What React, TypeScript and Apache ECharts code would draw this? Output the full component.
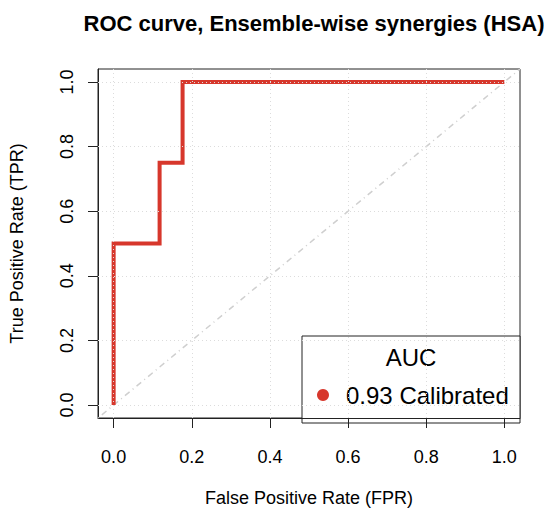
import React, { useEffect, useRef } from "react";
import * as echarts from "echarts";

// ROC curve vertices (false positive rate, true positive rate)
const fpr = [0, 0, 2 / 17, 2 / 17, 3 / 17, 3 / 17, 1];
const tpr = [0, 0.5, 0.5, 0.75, 0.75, 1, 1];

const tickValues = [0, 0.2, 0.4, 0.6, 0.8, 1.0];
const axisLimits = [-0.04, 1.04];

const seriesName = "0.93 Calibrated";
const legendTitle = "AUC";

const RED = "#d7372c";
const INK = "#222";
const FONT = "Liberation Sans, Arial, Helvetica, sans-serif";

export default function App() {
  const ref = useRef<HTMLDivElement>(null);

  useEffect(() => {
    if (!ref.current) return;
    document.body.style.margin = "0";
    document.body.style.overflow = "hidden";
    const chart = echarts.init(ref.current, null, { renderer: "svg" });

    const gridLines = [
      ...tickValues.map((v) => ({ xAxis: v })),
      ...tickValues.map((v) => ({ yAxis: v })),
    ];

    const box = { left: 98, right: 24, top: 69, bottom: 89 };
    const legendW = 218;
    const legendH = 87;
    const legendX = 544 - box.right - legendW;
    const legendY = 512 - box.bottom - legendH;

    const axisCommon = {
      type: "value",
      min: axisLimits[0],
      max: axisLimits[1],
      nameLocation: "middle",
      nameTextStyle: { fontFamily: FONT, fontSize: 18, color: "#000" },
      axisLine: { show: true, onZero: false, lineStyle: { color: INK, width: 1 } },
      splitLine: { show: false },
      axisTick: {
        show: true,
        length: 10,
        customValues: tickValues,
        lineStyle: { color: INK, width: 1 },
      },
    };

    chart.setOption({
      animation: false,
      textStyle: { fontFamily: FONT },
      title: {
        text: "ROC curve, Ensemble-wise synergies (HSA)",
        left: 309,
        textAlign: "center",
        top: 7,
        textStyle: { fontFamily: FONT, fontSize: 22, fontWeight: "bold", color: "#000" },
      },
      grid: {
        ...box,
        show: true,
        borderColor: INK,
        borderWidth: 1,
        backgroundColor: "transparent",
        containLabel: false,
      },
      xAxis: {
        ...axisCommon,
        name: "False Positive Rate (FPR)",
        nameGap: 71,
        axisLabel: {
          customValues: tickValues,
          margin: 30,
          fontFamily: FONT,
          fontSize: 18,
          color: "#000",
          formatter: (v: number) => v.toFixed(1),
        },
      },
      yAxis: {
        ...axisCommon,
        name: "True Positive Rate (TPR)",
        nameGap: 72,
        axisLabel: {
          customValues: tickValues,
          rotate: 90,
          margin: 22,
          fontFamily: FONT,
          fontSize: 18,
          color: "#000",
          formatter: (v: number) => v.toFixed(1),
        },
      },
      series: [
        {
          type: "line",
          name: "grid",
          data: [],
          silent: true,
          markLine: {
            silent: true,
            symbol: "none",
            label: { show: false },
            lineStyle: { color: "#dcdcdc", width: 1, type: [1, 3] },
            data: gridLines,
          },
        },
        {
          type: "line",
          name: "chance",
          data: axisLimits.map((v) => [v, v]),
          symbol: "none",
          silent: true,
          lineStyle: { color: "#cfcfcf", width: 1.5, type: [1, 4, 6, 4] },
        },
        {
          type: "line",
          name: seriesName,
          data: fpr.map((x, i) => [x, tpr[i]]),
          symbol: "none",
          lineStyle: { color: RED, width: 4, cap: "butt", join: "miter" },
        },
      ],
      graphic: [
        {
          type: "rect",
          shape: { x: legendX, y: legendY, width: legendW, height: legendH },
          style: { fill: "#fff", stroke: INK, lineWidth: 1 },
        },
        {
          type: "text",
          x: legendX + legendW / 2,
          y: legendY + 21,
          style: {
            text: legendTitle,
            fill: "#000",
            font: `24px ${FONT}`,
            textAlign: "center",
            textVerticalAlign: "middle",
          },
        },
        {
          type: "circle",
          shape: { cx: legendX + 21, cy: legendY + 59, r: 6 },
          style: { fill: RED },
        },
        {
          type: "text",
          x: legendX + 44,
          y: legendY + 59,
          style: {
            text: seriesName,
            fill: "#000",
            font: `24px ${FONT}`,
            textAlign: "left",
            textVerticalAlign: "middle",
          },
        },
      ],
    });

    return () => chart.dispose();
  }, []);

  return <div ref={ref} style={{ width: 544, height: 512 }} />;
}
